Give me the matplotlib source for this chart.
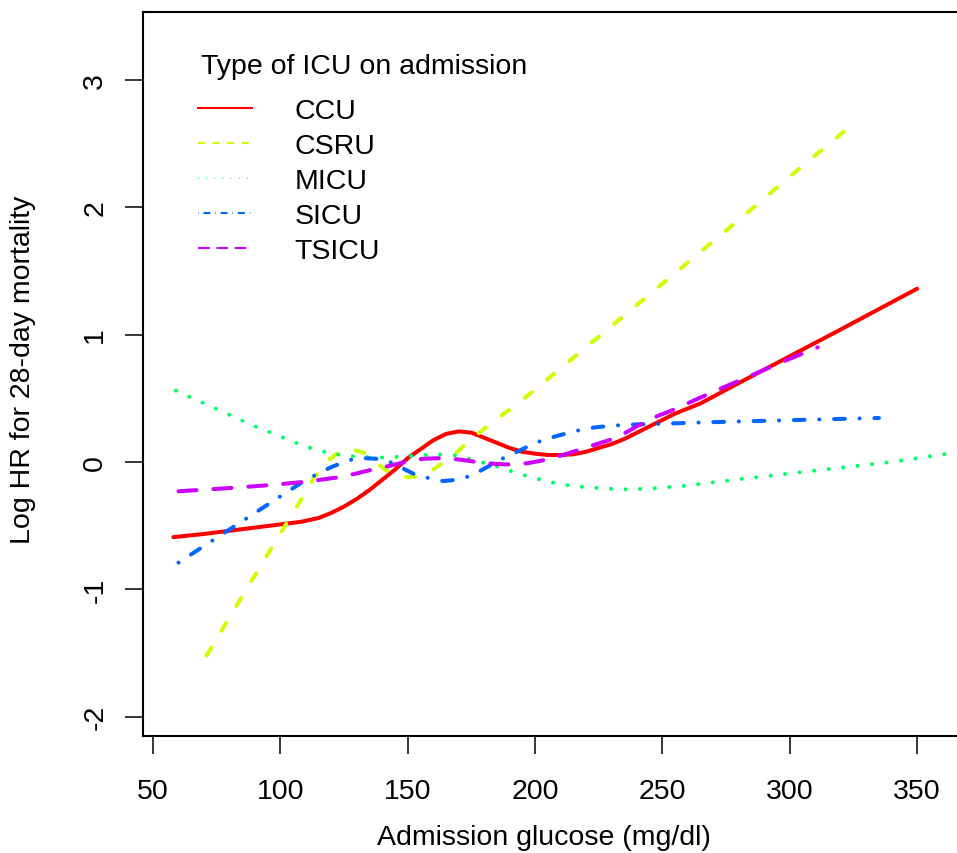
import matplotlib
matplotlib.use("Agg")
import matplotlib.pyplot as plt
from matplotlib.lines import Line2D

plt.rcParams['font.family'] = ['Liberation Sans', 'DejaVu Sans']
plt.rcParams['axes.unicode_minus'] = False
plt.rcParams['lines.scale_dashes'] = False

# ---------------- data ----------------
ccu_x = [58, 70, 80, 90, 100, 108, 115, 120, 125, 130, 135, 140, 145, 150, 155, 160,
         165, 170, 175, 180, 185, 190, 195, 200, 205, 210, 215, 220, 225, 230, 235,
         240, 245, 250, 255, 260, 265, 280, 300, 320, 335, 350]
ccu_y = [-0.59, -0.565, -0.54, -0.515, -0.49, -0.47, -0.44, -0.40, -0.35, -0.29, -0.22,
         -0.14, -0.06, 0.03, 0.10, 0.17, 0.22, 0.24, 0.23, 0.19, 0.15, 0.11, 0.08, 0.065,
         0.055, 0.055, 0.06, 0.08, 0.11, 0.14, 0.18, 0.23, 0.28, 0.33, 0.38, 0.42, 0.46,
         0.62, 0.83, 1.04, 1.20, 1.36]

csru_x = [71, 80, 90, 100, 108, 113, 118, 123, 128, 133, 137, 141, 145, 150, 155, 160,
          165, 170, 175, 180, 185, 190, 197, 220, 250, 280, 300, 327]
csru_y = [-1.52, -1.22, -0.89, -0.56, -0.30, -0.13, 0.0, 0.08, 0.10, 0.07, 0.01, -0.06,
          -0.10, -0.12, -0.11, -0.06, 0.01, 0.09, 0.18, 0.26, 0.34, 0.41, 0.52, 0.90,
          1.40, 1.90, 2.24, 2.69]

micu_x = [59, 70, 80, 90, 100, 110, 120, 130, 140, 150, 160, 168, 175, 185, 195, 205,
          215, 225, 235, 245, 260, 280, 300, 320, 340, 362]
micu_y = [0.56, 0.46, 0.37, 0.28, 0.20, 0.12, 0.065, 0.04, 0.035, 0.045, 0.06, 0.055,
          0.02, -0.035, -0.10, -0.155, -0.19, -0.205, -0.215, -0.21, -0.185, -0.135,
          -0.09, -0.045, 0.0, 0.065]

sicu_x = [60, 70, 80, 90, 100, 110, 120, 127, 133, 138, 143, 148, 153, 158, 164, 169,
          173, 178, 183, 188, 194, 200, 207, 215, 223, 230, 240, 250, 265, 280, 300,
          320, 335]
sicu_y = [-0.79, -0.66, -0.53, -0.40, -0.27, -0.14, -0.04, 0.015, 0.03, 0.025, 0.0,
          -0.05, -0.10, -0.125, -0.15, -0.14, -0.12, -0.075, -0.02, 0.035, 0.09, 0.15,
          0.195, 0.24, 0.27, 0.285, 0.295, 0.30, 0.31, 0.318, 0.328, 0.338, 0.345]

tsicu_x = [60, 80, 97, 110, 123, 130, 136, 143, 150, 156, 163, 170, 177, 184, 190, 197,
           205, 211, 218, 225, 232, 240, 248, 255, 261, 271, 285, 297, 311]
tsicu_y = [-0.23, -0.205, -0.18, -0.155, -0.12, -0.09, -0.06, -0.03, 0.005, 0.025, 0.03,
           0.02, 0.0, -0.015, -0.02, -0.01, 0.02, 0.055, 0.10, 0.145, 0.19, 0.28, 0.36,
           0.415, 0.47, 0.56, 0.68, 0.785, 0.90]

labels = ["CCU", "CSRU", "MICU", "SICU", "TSICU"]
legend_title = "Type of ICU on admission"
colors = ["#FF0000", "#CCFF00", "#00FF66", "#0066FF", "#CC00FF"]
xticks = [50, 100, 150, 200, 250, 300, 350]
yticks = [-2, -1, 0, 1, 2, 3]

# ---------------- figure ----------------
W, H = 957, 854
FS = 20.5
fig = plt.figure(figsize=(W / 100, H / 100), dpi=100)
L, R, T, B = 143, 978, 13, 737
ax = fig.add_axes([L / W, 1 - B / H, (R - L) / W, (B - T) / H])

series = [(ccu_x, ccu_y), (csru_x, csru_y), (micu_x, micu_y), (sicu_x, sicu_y), (tsicu_x, tsicu_y)]
dash_main = [None, (6.5, 14.4), (0.1, 10.4), (0.1, 10.6, 7.7, 10.6), (13.0, 12.2)]
dash_leg = [None, (5.0, 5.5), (0.4, 5.5), (0.4, 3.5, 5.0, 3.5), (8.4, 4.8)]

for (xs, ys), c, d in zip(series, colors, dash_main):
    ln, = ax.plot(xs, ys, color=c, lw=2.9, solid_capstyle='round', dash_capstyle='round',
                  solid_joinstyle='round')
    if d is not None:
        ln.set_dashes(d)

ax.set_xlim(46.07, 373.9)
ax.set_ylim(-2.151, 3.532)
ax.set_xticks(xticks)
ax.set_yticks(yticks)
ax.set_xticklabels([str(v) for v in xticks])
ax.set_yticklabels([str(v) for v in yticks], rotation=90, va='center')

for s in ax.spines.values():
    s.set_linewidth(1.5)
ax.tick_params(length=13, width=1.1, labelsize=FS, color='black')
ax.tick_params(axis='x', pad=17)
ax.tick_params(axis='y', pad=12)

ax.set_xlabel("Admission glucose (mg/dl)", fontsize=FS)
ax.xaxis.label.set_va('baseline')
ax.xaxis.set_label_coords((544 - L) / (R - L), (B - 845) / (B - T))
ax.set_ylabel("Log HR for 28-day mortality", fontsize=FS)
ax.yaxis.label.set_va('center')
ax.yaxis.set_label_coords((23 - L) / (R - L), (B - 370) / (B - T))

handles = []
for c, d in zip(colors, dash_leg):
    h = Line2D([0], [0], color=c, lw=1.5)
    if d is not None:
        h.set_dashes(d)
    handles.append(h)

fig.text(201 / W, 1 - 67 / H, legend_title, fontsize=FS, ha='left', va='center')
leg = ax.legend(handles, labels, loc='upper left',
                bbox_to_anchor=(198 / W, 1 - 99 / H), bbox_transform=fig.transFigure,
                frameon=False, fontsize=FS, alignment='left',
                handlelength=1.9, handletextpad=1.5, labelspacing=0.32,
                borderpad=0, borderaxespad=0)

fig.savefig("out.png", dpi=100)
